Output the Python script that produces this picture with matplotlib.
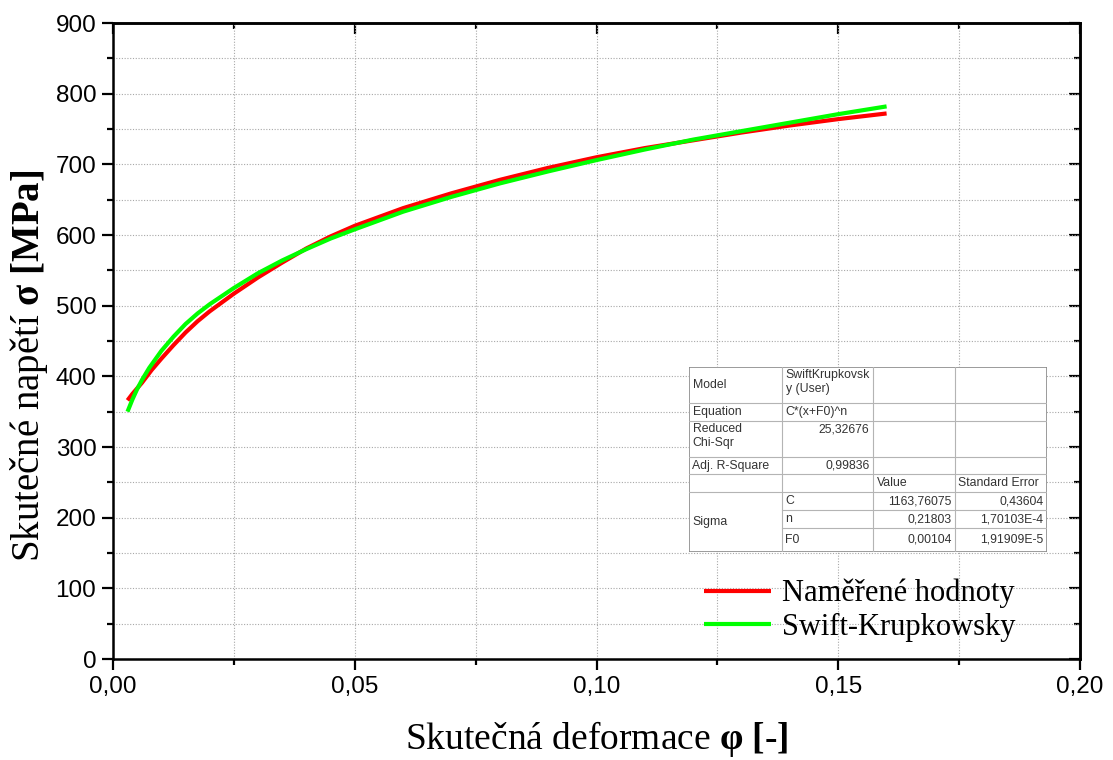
import matplotlib
matplotlib.use("Agg")
import matplotlib.pyplot as plt
from matplotlib.ticker import MultipleLocator, FuncFormatter

# ---- data ----
strain_meas = [0.003, 0.004, 0.005, 0.006, 0.008, 0.010, 0.0125, 0.015, 0.0175, 0.020, 0.025,
               0.030, 0.035, 0.040, 0.045, 0.050, 0.060, 0.070, 0.080, 0.090, 0.100, 0.110,
               0.120, 0.130, 0.140, 0.150, 0.160]
stress_meas = [366, 375, 383, 391, 409, 425, 444, 462, 478, 492, 517,
               540, 561, 581, 598, 613, 638, 659, 678, 695, 710, 723,
               734, 745, 755, 764, 772]

strain_fit = [0.003, 0.004, 0.005, 0.006, 0.0075, 0.010, 0.0125, 0.015, 0.0175, 0.020, 0.025,
              0.030, 0.035, 0.040, 0.045, 0.050, 0.060, 0.070, 0.080, 0.090, 0.100, 0.110,
              0.120, 0.130, 0.140, 0.150, 0.160]
stress_fit = [350, 367, 382, 395, 412, 436, 456, 474, 489, 502, 525,
              546, 564, 580, 595, 608, 633, 654, 673, 690, 706, 721,
              735, 747, 759, 771, 782]

series_labels = ["Naměřené hodnoty", "Swift-Krupkowsky"]

x_ticks = [0.00, 0.05, 0.10, 0.15, 0.20]
y_ticks = [0, 100, 200, 300, 400, 500, 600, 700, 800, 900]

table_rows = [
    ["Model", "SwiftKrupkovsk\ny (User)", "", ""],
    ["Equation", "C*(x+F0)^n", "", ""],
    ["Reduced\nChi-Sqr", "25,32676", "", ""],
    ["Adj. R-Square", "0,99836", "", ""],
    ["", "", "Value", "Standard Error"],
]
param_group = "Sigma"
param_names = ["C", "n", "F0"]
param_values = ["1163,76075", "0,21803", "0,00104"]
param_errors = ["0,43604", "1,70103E-4", "1,91909E-5"]

# ---- figure ----
plt.rcParams["mathtext.fontset"] = "custom"
plt.rcParams["mathtext.rm"] = "Liberation Serif"
plt.rcParams["mathtext.it"] = "Liberation Serif:italic"
plt.rcParams["mathtext.bf"] = "Liberation Serif:bold"

W, H = 1113, 760
fig = plt.figure(figsize=(W / 100, H / 100), dpi=100)
ax = fig.add_axes([113 / W, 1 - 659 / H, (1080 - 113) / W, (659 - 23) / H])

ax.plot(strain_meas, stress_meas, color="#ff0000", lw=3.0, label=series_labels[0], zorder=3,
        solid_capstyle="butt", solid_joinstyle="round")
ax.plot(strain_fit, stress_fit, color="#00ff00", lw=3.0, label=series_labels[1], zorder=4,
        solid_capstyle="butt", solid_joinstyle="round")

ax.set_xlim(0, 0.20)
ax.set_ylim(0, 900)
ax.set_xticks(x_ticks)
ax.set_yticks(y_ticks)
ax.xaxis.set_minor_locator(MultipleLocator(0.025))
ax.yaxis.set_minor_locator(MultipleLocator(50))
ax.xaxis.set_major_formatter(FuncFormatter(lambda v, p: f"{v:.2f}".replace(".", ",")))
ax.yaxis.set_major_formatter(FuncFormatter(lambda v, p: f"{v:.0f}"))

for s in ax.spines.values():
    s.set_linewidth(1.8)

ax.tick_params(which="major", direction="out", length=8, width=1.6, labelsize=17.5, pad=4)
ax.tick_params(which="minor", direction="out", length=4.5, width=1.6)
for lab in ax.get_xticklabels() + ax.get_yticklabels():
    lab.set_fontfamily("Liberation Sans")

# ticks on top/right, inward
axt = ax.secondary_xaxis("top")
axt.set_xticks(x_ticks)
axt.xaxis.set_minor_locator(MultipleLocator(0.025))
axt.tick_params(which="major", direction="in", length=8, width=1.6, labeltop=False)
axt.tick_params(which="minor", direction="in", length=4.5, width=1.6)
axt.spines["top"].set_linewidth(1.8)
axr = ax.secondary_yaxis("right")
axr.set_yticks(y_ticks)
axr.yaxis.set_minor_locator(MultipleLocator(50))
axr.tick_params(which="major", direction="in", length=8, width=1.6, labelright=False)
axr.tick_params(which="minor", direction="in", length=4.5, width=1.6)
axr.spines["right"].set_linewidth(1.8)

ax.grid(True, which="both", color="#a8a8a8", linestyle=(0, (1, 1.5)), linewidth=0.8)
ax.set_axisbelow(True)

ax.set_xlabel("Skutečná deformace $\\mathbf{φ\\ [\u2010]}$", fontfamily="Liberation Serif",
              fontsize=27)
ax.xaxis.set_label_coords(0.5, (659 - 749) / 636)
ax.xaxis.label.set_va("baseline")
ax.set_ylabel(r"Skutečné napětí $\mathbf{σ\ [MPa]}$", fontfamily="Liberation Serif",
              fontsize=28)
ax.yaxis.set_label_coords((50 - 113) / 967, (659 - 366) / 636)

leg = ax.legend(loc="upper left", bbox_to_anchor=(704 / W, 1 - 579 / H),
                bbox_transform=fig.transFigure, frameon=False, borderpad=0, borderaxespad=0,
                handlelength=2.2, handletextpad=0.35, labelspacing=0.15,
                prop={"family": "Liberation Serif", "size": 22})

# ---- fit-result table ----
x0, x1 = 689, 1047
y0, y1 = 367, 552
tax = fig.add_axes([x0 / W, 1 - y1 / H, (x1 - x0) / W, (y1 - y0) / H])
tax.set_xlim(x0, x1)
tax.set_ylim(y1, y0)
tax.axis("off")
tax.add_patch(plt.Rectangle((x0, y0), x1 - x0, y1 - y0, facecolor="white",
                            edgecolor="#8a8a8a", lw=1.2, zorder=1))
cols = [689, 782, 873, 955, 1047]
rows = [367, 403, 421, 457, 474, 492, 510, 528, 552]
lc = "#b4b4b4"
for r in rows[1:6]:
    tax.plot([x0, x1], [r, r], color=lc, lw=0.8, zorder=2)
for r in rows[6:8]:
    tax.plot([cols[1], x1], [r, r], color=lc, lw=0.8, zorder=2)
for c in cols[1:4]:
    tax.plot([c, c], [y0, y1], color=lc, lw=0.8, zorder=2)

tc = "#333333"
fs = 8.8
tf = "Liberation Sans"
pad = 3.5
kw = dict(fontsize=fs, color=tc, family=tf, linespacing=1.25)
# column 0
tax.text(cols[0] + pad, (rows[0] + rows[1]) / 2, table_rows[0][0], ha="left", va="center", **kw)
tax.text(cols[0] + pad, (rows[1] + rows[2]) / 2, table_rows[1][0], ha="left", va="center", **kw)
tax.text(cols[0] + pad, rows[2] + 2, table_rows[2][0], ha="left", va="top", **kw)
tax.text(cols[0] + pad, (rows[3] + rows[4]) / 2, table_rows[3][0], ha="left", va="center", **kw)
tax.text(cols[0] + pad, (rows[5] + rows[8]) / 2, param_group, ha="left", va="center", **kw)
# column 1
tax.text(cols[1] + pad, rows[0] + 2, table_rows[0][1], ha="left", va="top", **kw)
tax.text(cols[1] + pad, (rows[1] + rows[2]) / 2, table_rows[1][1], ha="left", va="center", **kw)
tax.text(cols[2] - pad, rows[2] + 2, table_rows[2][1], ha="right", va="top", **kw)
tax.text(cols[2] - pad, (rows[3] + rows[4]) / 2, table_rows[3][1], ha="right", va="center", **kw)
tax.text(cols[2] + pad, (rows[4] + rows[5]) / 2, table_rows[4][2], ha="left", va="center", **kw)
tax.text(cols[3] + pad, (rows[4] + rows[5]) / 2, table_rows[4][3], ha="left", va="center", **kw)
for k in range(3):
    yc = (rows[5 + k] + rows[6 + k]) / 2
    tax.text(cols[1] + pad, yc, param_names[k], ha="left", va="center", **kw)
    tax.text(cols[3] - pad, yc, param_values[k], ha="right", va="center", **kw)
    tax.text(cols[4] - pad, yc, param_errors[k], ha="right", va="center", **kw)

fig.savefig("out.png", dpi=100)
